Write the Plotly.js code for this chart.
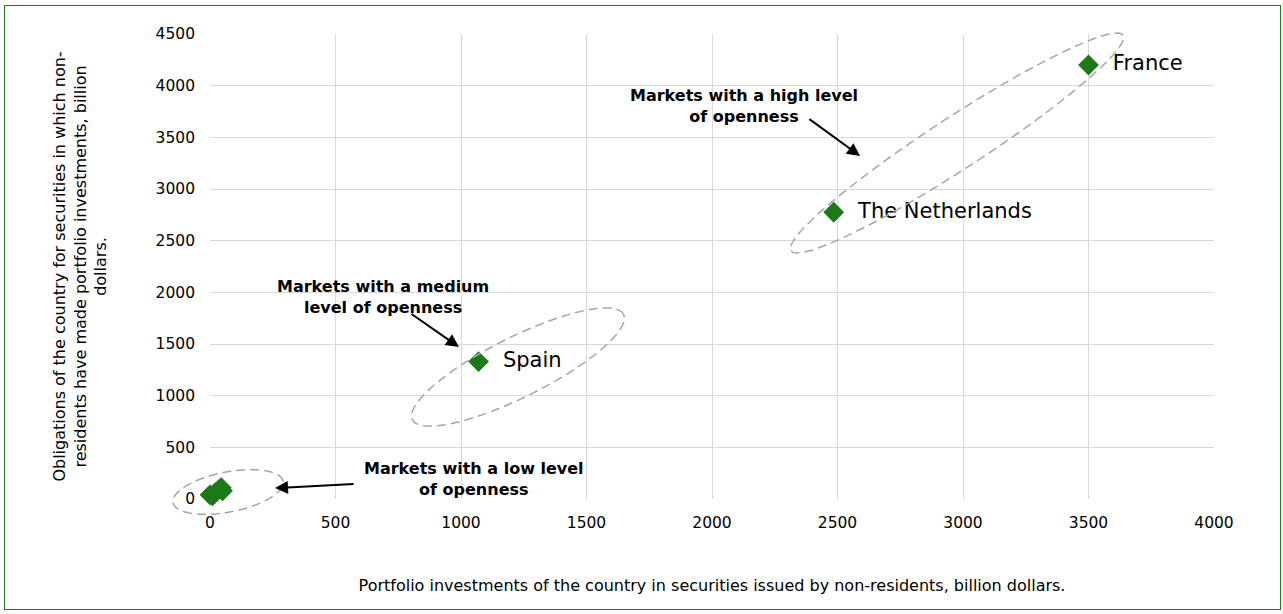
<!DOCTYPE html>
<html><head><meta charset="utf-8">
<script src="https://cdn.plot.ly/plotly-3.0.1.min.js"></script>
<style>
html,body{margin:0;padding:0;background:#fff;}
#frame{position:absolute;left:4px;top:5px;width:1275px;height:603px;border:1.5px solid #1e7b1e;pointer-events:none;z-index:5;}
#chart{position:absolute;left:0;top:0;width:1283px;height:614px;}
</style></head>
<body>
<div id="chart"></div><div id="frame"></div>
<script>
// Data
const countries = ["France", "The Netherlands", "Spain", "", "", "", "", "", ""];
const investments = [3500, 2485, 1070, 0, 10, 20, 35, 45, 50];
const obligations = [4200, 2775, 1330, 40, 30, 60, 90, 110, 80];
const xTicks = [0, 500, 1000, 1500, 2000, 2500, 3000, 3500, 4000];
const yTicks = [0, 500, 1000, 1500, 2000, 2500, 3000, 3500, 4000, 4500];
const groupLabels = ["Markets with a high level<br>of openness", "Markets with a medium<br>level of openness", "Markets with a low level<br>of openness"];

const W = 1283, H = 614, M = {l: 210, r: 69, t: 34, b: 115};
const xr = [0, 4000], yr = [0, 4500];
const pw = W - M.l - M.r, ph = H - M.t - M.b;

// ellipse drawn in paper coordinates (not clipped): center in data, semi axes in px, angle in degrees
function ellipsePath(cx, cy, a, b, angDeg) {
  const t = angDeg * Math.PI / 180;
  const pcx = (cx - xr[0]) / (xr[1] - xr[0]), pcy = (cy - yr[0]) / (yr[1] - yr[0]);
  let d = "";
  for (let i = 0; i <= 72; i++) {
    const u = i / 72 * 2 * Math.PI;
    const px = a * Math.cos(u) * Math.cos(t) - b * Math.sin(u) * Math.sin(t);
    const py = a * Math.cos(u) * Math.sin(t) + b * Math.sin(u) * Math.cos(t);
    const x = pcx + px / pw, y = pcy + py / ph;
    d += (i === 0 ? "M" : "L") + x.toFixed(4) + "," + y.toFixed(4);
  }
  return d + "Z";
}
const ellipseStyle = {color: "#a6a6a6", width: 1.5, dash: "9px,5px"};
const shapes = [
  {type: "path", xref: "paper", yref: "paper", path: ellipsePath(2976, 3445, 198, 26, 33), line: ellipseStyle},
  {type: "path", xref: "paper", yref: "paper", path: ellipsePath(1227, 1277, 118, 30, 26.5), line: ellipseStyle},
  {type: "path", xref: "paper", yref: "paper", path: ellipsePath(72, 68, 56, 20, 11), line: ellipseStyle}
];

const FF = "DejaVu Sans, Verdana, sans-serif";
const annFont = {family: FF, size: 16, color: "#000"};
const annotations = [
  {x: 2127, y: 3803, xref: "x", yref: "y", text: "<b>" + groupLabels[0] + "</b>", showarrow: false, font: annFont, align: "center"},
  {x: 689, y: 1955, xref: "x", yref: "y", text: "<b>" + groupLabels[1] + "</b>", showarrow: false, font: annFont, align: "center"},
  {x: 1050, y: 194, xref: "x", yref: "y", text: "<b>" + groupLabels[2] + "</b>", showarrow: false, font: annFont, align: "center"},
  {x: 2590, y: 3319, ax: 2382, ay: 3687, axref: "x", ayref: "y", xref: "x", yref: "y", text: "", showarrow: true, arrowhead: 2, arrowsize: 1.3, arrowwidth: 2, arrowcolor: "#000"},
  {x: 992, y: 1471, ax: 797, ay: 1800, axref: "x", ayref: "y", xref: "x", yref: "y", text: "", showarrow: true, arrowhead: 2, arrowsize: 1.3, arrowwidth: 2, arrowcolor: "#000"},
  {x: 259, y: 106, ax: 578, ay: 145, axref: "x", ayref: "y", xref: "x", yref: "y", text: "", showarrow: true, arrowhead: 2, arrowsize: 1.3, arrowwidth: 2, arrowcolor: "#000"}
];

const trace = {
  type: "scatter", mode: "markers+text",
  x: investments, y: obligations,
  text: countries.map(c => c ? "\u00a0\u00a0" + c : ""),
  textposition: "middle right",
  textfont: {family: FF, size: 21, color: "#000"},
  marker: {symbol: "diamond", size: 16, color: "#1a7a1a", line: {width: 0}},
  cliponaxis: false, hoverinfo: "x+y"
};

const tickFont = {family: FF, size: 15.5, color: "#000"};
const titleFont = {family: FF, size: 16, color: "#000"};
const layout = {
  width: W, height: H, margin: M,
  paper_bgcolor: "#fff", plot_bgcolor: "#fff",
  showlegend: false,
  xaxis: {range: xr, tickvals: xTicks, ticktext: xTicks.map(String), showgrid: true, gridcolor: "#d9d9d9", gridwidth: 1,
    zeroline: false, showline: false, ticks: "", tickfont: tickFont, ticklabelstandoff: 12,
    title: {text: "Portfolio investments of the country in securities issued by non-residents, billion dollars.", font: titleFont, standoff: 49}},
  yaxis: {range: yr, tickvals: yTicks, ticktext: yTicks.map(String), showgrid: true, gridcolor: "#d9d9d9", gridwidth: 1,
    zeroline: false, showline: false, ticks: "", tickfont: tickFont, ticklabelstandoff: 14,
    title: {text: "Obligations of the country for securities in which non-<br>residents have made portfolio investments, billion<br>dollars.", font: titleFont, standoff: 44}},
  shapes: shapes, annotations: annotations
};
Plotly.newPlot("chart", [trace], layout, {displayModeBar: false, staticPlot: true});
</script>
</body></html>
